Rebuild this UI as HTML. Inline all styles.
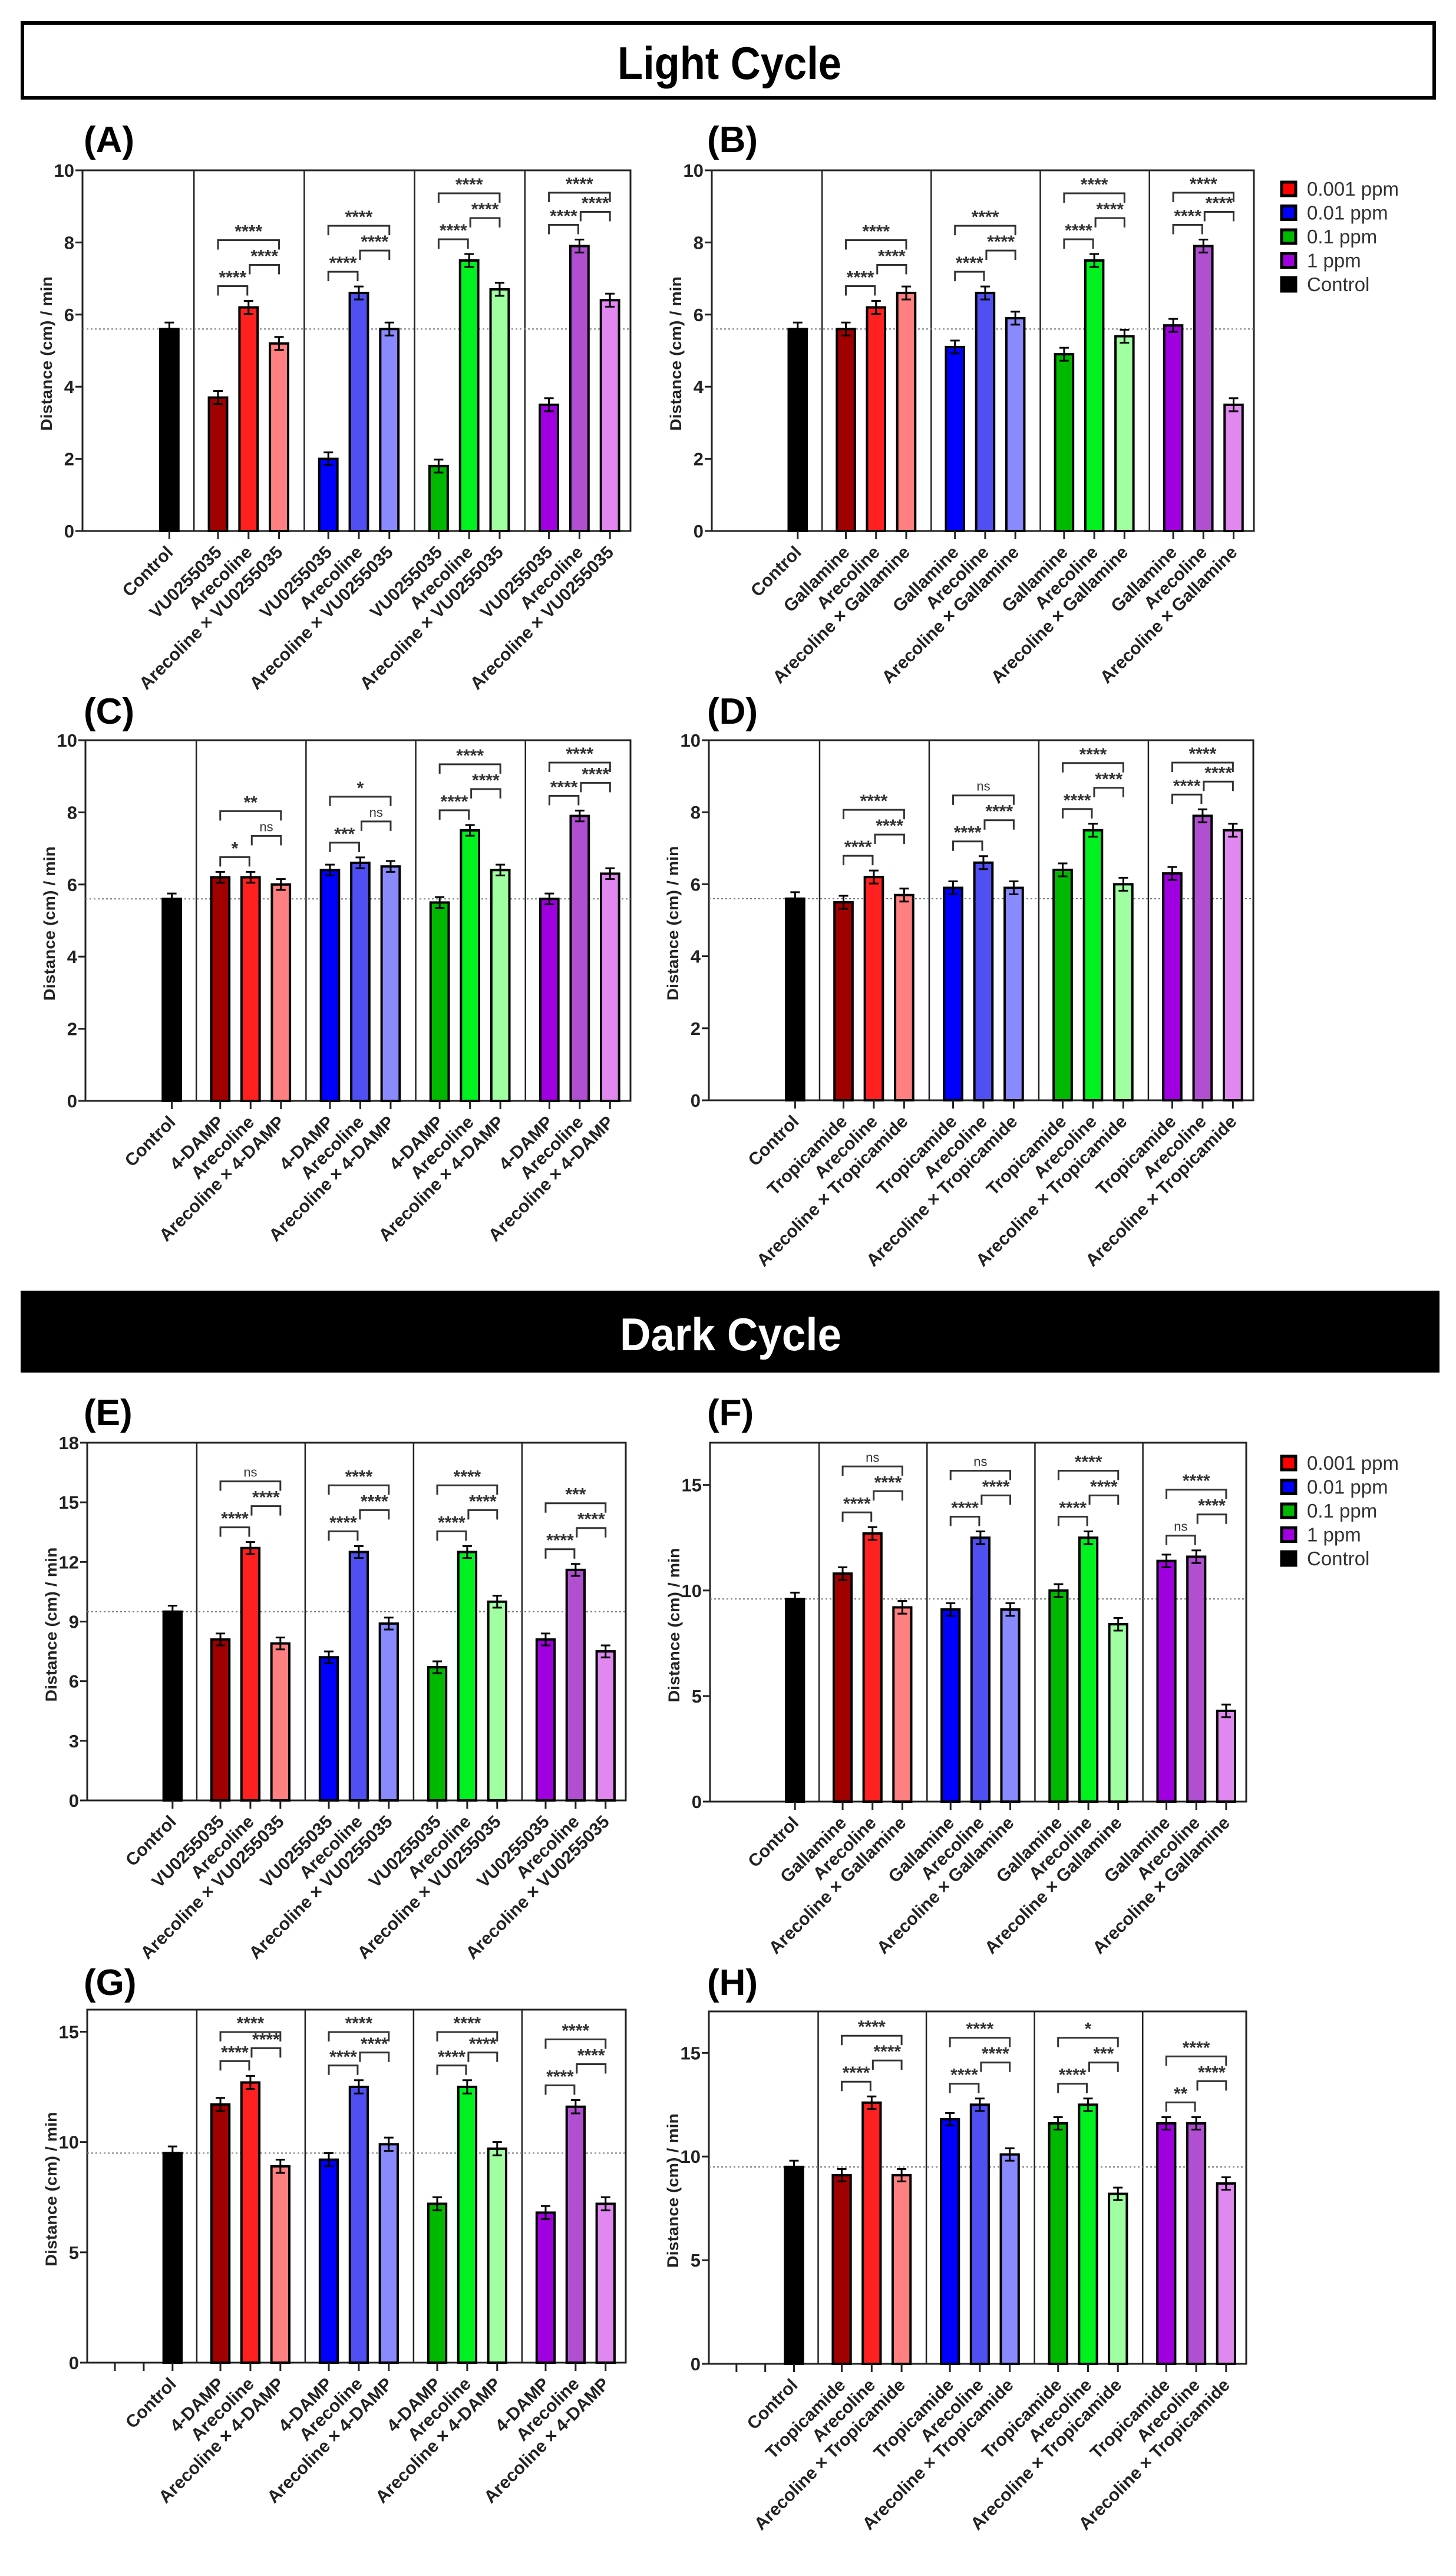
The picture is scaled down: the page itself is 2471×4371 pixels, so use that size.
<!DOCTYPE html>
<html><head><meta charset="utf-8"><style>
html,body{margin:0;padding:0;background:#fff}
svg{display:block}
text{font-family:"Liberation Sans",Arial,sans-serif}
</style></head><body>
<svg id="fig" width="2471" height="4371" viewBox="0 0 2471 4371" xmlns="http://www.w3.org/2000/svg">
<rect x="0" y="0" width="2471" height="4371" fill="#fff"/>
<g>
<rect x="38" y="39" width="2396" height="127" fill="#fff" stroke="#000" stroke-width="6"/>
<text x="1238" y="134" font-size="78" font-weight="bold" text-anchor="middle" textLength="380" lengthAdjust="spacingAndGlyphs">Light Cycle</text>
</g>
<g>
<rect x="35" y="2190" width="2408" height="139" fill="#000"/>
<text x="1240" y="2291" font-size="78" font-weight="bold" fill="#fff" text-anchor="middle" textLength="376" lengthAdjust="spacingAndGlyphs">Dark Cycle</text>
</g>
<g id="charts"></g>
</svg>
<script>
// ---- data ----
const categories = ["Antagonist", "Arecoline", "Arecoline × Antagonist"];
const doseLabels = ["0.001 ppm", "0.01 ppm", "0.1 ppm", "1 ppm", "Control"];
const aControl = 5.6;
const aValues = [[3.7,6.2,5.2],[2.0,6.6,5.6],[1.8,7.5,6.7],[3.5,7.9,6.4]];
const aSig = [["****","****","****"],["****","****","****"],["****","****","****"],["****","****","****"]];
const bControl = 5.6;
const bValues = [[5.6,6.2,6.6],[5.1,6.6,5.9],[4.9,7.5,5.4],[5.7,7.9,3.5]];
const bSig = [["****","****","****"],["****","****","****"],["****","****","****"],["****","****","****"]];
const cControl = 5.6;
const cValues = [[6.2,6.2,6.0],[6.4,6.6,6.5],[5.5,7.5,6.4],[5.6,7.9,6.3]];
const cSig = [["*","ns","**"],["***","ns","*"],["****","****","****"],["****","****","****"]];
const dControl = 5.6;
const dValues = [[5.5,6.2,5.7],[5.9,6.6,5.9],[6.4,7.5,6.0],[6.3,7.9,7.5]];
const dSig = [["****","****","****"],["****","****","ns"],["****","****","****"],["****","****","****"]];
const eControl = 9.5;
const eValues = [[8.1,12.7,7.9],[7.2,12.5,8.9],[6.7,12.5,10.0],[8.1,11.6,7.5]];
const eSig = [["****","****","ns"],["****","****","****"],["****","****","****"],["****","****","***"]];
const fControl = 9.6;
const fValues = [[10.8,12.7,9.2],[9.1,12.5,9.1],[10.0,12.5,8.4],[11.4,11.6,4.3]];
const fSig = [["****","****","ns"],["****","****","ns"],["****","****","****"],["ns","****","****"]];
const gControl = 9.5;
const gValues = [[11.7,12.7,8.9],[9.2,12.5,9.9],[7.2,12.5,9.7],[6.8,11.6,7.2]];
const gSig = [["****","****","****"],["****","****","****"],["****","****","****"],["****","****","****"]];
const hControl = 9.5;
const hValues = [[9.1,12.6,9.1],[11.8,12.5,10.1],[11.6,12.5,8.2],[11.6,11.6,8.7]];
const hSig = [["****","****","****"],["****","****","****"],["****","***","*"],["**","****","****"]];
const lightTicks = [0,2,4,6,8,10];
const eTicks = [0,3,6,9,12,15,18];
const fiveTicks = [0,5,10,15];

const colors = [["#a00000","#ff2020","#ff8080"],["#0000ff","#5050f2","#8a8aff"],["#00b800","#00f020","#a0ffa0"],["#a000e0","#b050d0","#e088f0"]];

const panels = [
 {id:"A",x0:140,x1:1070,yT:289,yB:901,max:10,ticks:lightTicks,ctrl:aControl,vals:aValues,sig:aSig,drug:"VU0255035",lx:142,ly:258,legend:null,extra:false,err:0.18},
 {id:"B",x0:1208,x1:2128,yT:289,yB:901,max:10,ticks:lightTicks,ctrl:bControl,vals:bValues,sig:bSig,drug:"Gallamine",lx:1200,ly:258,legend:307,extra:false,err:0.18},
 {id:"C",x0:145,x1:1070,yT:1256,yB:1868,max:10,ticks:lightTicks,ctrl:cControl,vals:cValues,sig:cSig,drug:"4-DAMP",lx:142,ly:1228,legend:null,extra:false,err:0.15},
 {id:"D",x0:1203,x1:2127,yT:1256,yB:1867,max:10,ticks:lightTicks,ctrl:dControl,vals:dValues,sig:dSig,drug:"Tropicamide",lx:1200,ly:1228,legend:null,extra:false,err:0.18},
 {id:"E",x0:148,x1:1062,yT:2448,yB:3055,max:18,ticks:eTicks,ctrl:eControl,vals:eValues,sig:eSig,drug:"VU0255035",lx:142,ly:2418,legend:null,extra:false,err:0.3},
 {id:"F",x0:1205,x1:2115,yT:2448,yB:3057,max:17,ticks:fiveTicks,ctrl:fControl,vals:fValues,sig:fSig,drug:"Gallamine",lx:1200,ly:2418,legend:2469,extra:false,err:0.3},
 {id:"G",x0:148,x1:1062,yT:3410,yB:4009,max:16,ticks:fiveTicks,ctrl:gControl,vals:gValues,sig:gSig,drug:"4-DAMP",lx:142,ly:3385,legend:null,extra:true,err:0.3},
 {id:"H",x0:1203,x1:2115,yT:3413,yB:4011,max:17,ticks:fiveTicks,ctrl:hControl,vals:hValues,sig:hSig,drug:"Tropicamide",lx:1200,ly:3385,legend:null,extra:true,err:0.3}
];

const NS="http://www.w3.org/2000/svg";
const root=document.getElementById("charts");
function mk(tag,attrs,parent){const e=document.createElementNS(NS,tag);for(const k in attrs)e.setAttribute(k,attrs[k]);parent.appendChild(e);return e;}

panels.forEach(p=>{
  const g=mk("g",{},root);
  
  
  const W=p.x1-p.x0, k=W/934;
  const X=r=>p.x0+r*k;
  const Y=v=>p.yB-(v/p.max)*(p.yB-p.yT);
  const lab=mk("text",{x:p.lx,y:p.ly,"font-size":62,"font-weight":"bold"},g);
  lab.textContent="("+p.id+")";
  
  
  const fr=mk("rect",{x:p.x0,y:p.yT,width:W,height:p.yB-p.yT,fill:"none",stroke:"#222","stroke-width":3},g);
  
  
  for(let s=0;s<4;s++){
    const sx=X(190+s*188);
    const sl=mk("line",{x1:sx,x2:sx,y1:p.yT,y2:p.yB,stroke:"#222","stroke-width":2.5},g);
    
    
  }
  p.ticks.forEach(t=>{
    const y=Y(t);
    const tl=mk("line",{x1:p.x0-12,x2:p.x0,y1:y,y2:y,stroke:"#222","stroke-width":3},g);
    
    
    const tt=mk("text",{x:p.x0-14,y:y+11,"font-size":31,"font-weight":"bold","text-anchor":"end",fill:"#222"},g);
    tt.textContent=t;
    
    
  });
  const yt=mk("text",{x:0,y:0,"font-size":27,"font-weight":"bold","text-anchor":"middle",fill:"#222",transform:`translate(${p.x0-52},${(p.yT+p.yB)/2+5}) rotate(-90)`,textLength:262,lengthAdjust:"spacingAndGlyphs"},g);
  yt.textContent="Distance (cm) / min";
  
  
  const dl=mk("line",{x1:p.x0,x2:p.x1,y1:Y(p.ctrl),y2:Y(p.ctrl),stroke:"#777","stroke-width":2,"stroke-dasharray":"3,4"},g);
  
  
  const bw=31*k;
  function bar(cx,v,col,name){
    const r=mk("rect",{x:cx-bw/2,y:Y(v),width:bw,height:Y(0)-Y(v),fill:col,stroke:"#000","stroke-width":4},g);
    
    
    const e=mk("path",{d:`M${cx},${Y(v-p.err)}V${Y(v+p.err)}M${cx-8},${Y(v+p.err)}H${cx+8}M${cx-8},${Y(v-p.err)}H${cx+8}`,stroke:"#000","stroke-width":3,fill:"none"},g);
    
    
    const xt=mk("line",{x1:cx,x2:cx,y1:p.yB,y2:p.yB+14,stroke:"#222","stroke-width":3},g);
    
    
  }
  function xlabel(cx,txt){
    const t=mk("text",{x:0,y:0,"font-size":30,"font-weight":"bold","text-anchor":"end",fill:"#222",transform:`translate(${cx+8},${p.yB+38}) rotate(-45)`},g);
    t.textContent=txt;
    
    
  }
  if(p.extra){[48,98].forEach(r=>{const xt=mk("line",{x1:X(r),x2:X(r),y1:p.yB,y2:p.yB+14,stroke:"#222","stroke-width":3},g);});}
  const cx=X(148);
  bar(cx,p.ctrl,"#000","bar-control");
  xlabel(cx,"Control");
  const names=[p.drug,"Arecoline","Arecoline × "+p.drug];
  p.vals.forEach((grp,gi)=>{
    const xs=grp.map((v,j)=>X(231+gi*188+j*52));
    grp.forEach((v,j)=>{bar(xs[j],v,colors[gi][j],"bar-g"+(gi+1)+"-"+(j+1));xlabel(xs[j],names[j]);});
    const topPx=(a,b)=>Math.min(Y(grp[a]+p.err),Y(grp[b]+p.err));
    const y01=topPx(0,1)-25;
    let y12=Math.min(y01-36,topPx(1,2)-25);
    let y02=Math.min(y12-42,topPx(0,2)-66);
    const ymin=p.yT+38;
    if(y02<ymin){y02=ymin;}
    if(y12<y02+36){y12=Math.min(y01-22,y02+36);}
    const br=[[0,1,y01],[1,2,y12],[0,2,y02]];
    br.forEach((b,bi)=>{
      const x1=xs[b[0]]+(b[0]===1?2:0), x2=xs[b[1]]-(b[1]===1?2:0), y=b[2];
      const pth=mk("path",{d:`M${x1},${y+16}V${y}H${x2}V${y+16}`,stroke:"#333","stroke-width":3,fill:"none"},g);
      
      
      const lbl=p.sig[gi][bi];
      const st=mk("text",{x:(x1+x2)/2,y:lbl==="ns"?y-8:y-5,"font-size":lbl==="ns"?22:30,"font-weight":lbl==="ns"?"normal":"bold","text-anchor":"middle",fill:"#333"},g);
      st.textContent=lbl;
      
      
    });
  });
  if(p.legend!==null){
    const lg=mk("g",{},g);
    
    
    const lc=["#ff0000","#0000ff","#00b800","#a000e0","#000"];
    doseLabels.forEach((d,i)=>{
      const y=p.legend+i*40.5;
      const sq=mk("rect",{x:2175,y:y+2,width:24,height:23,fill:lc[i],stroke:"#000","stroke-width":5},lg);
      
      
      const t=mk("text",{x:2218,y:y+25,"font-size":33,fill:"#333"},lg);
      t.textContent=d;
      
      
    });
  }
});
</script>
</body></html>
